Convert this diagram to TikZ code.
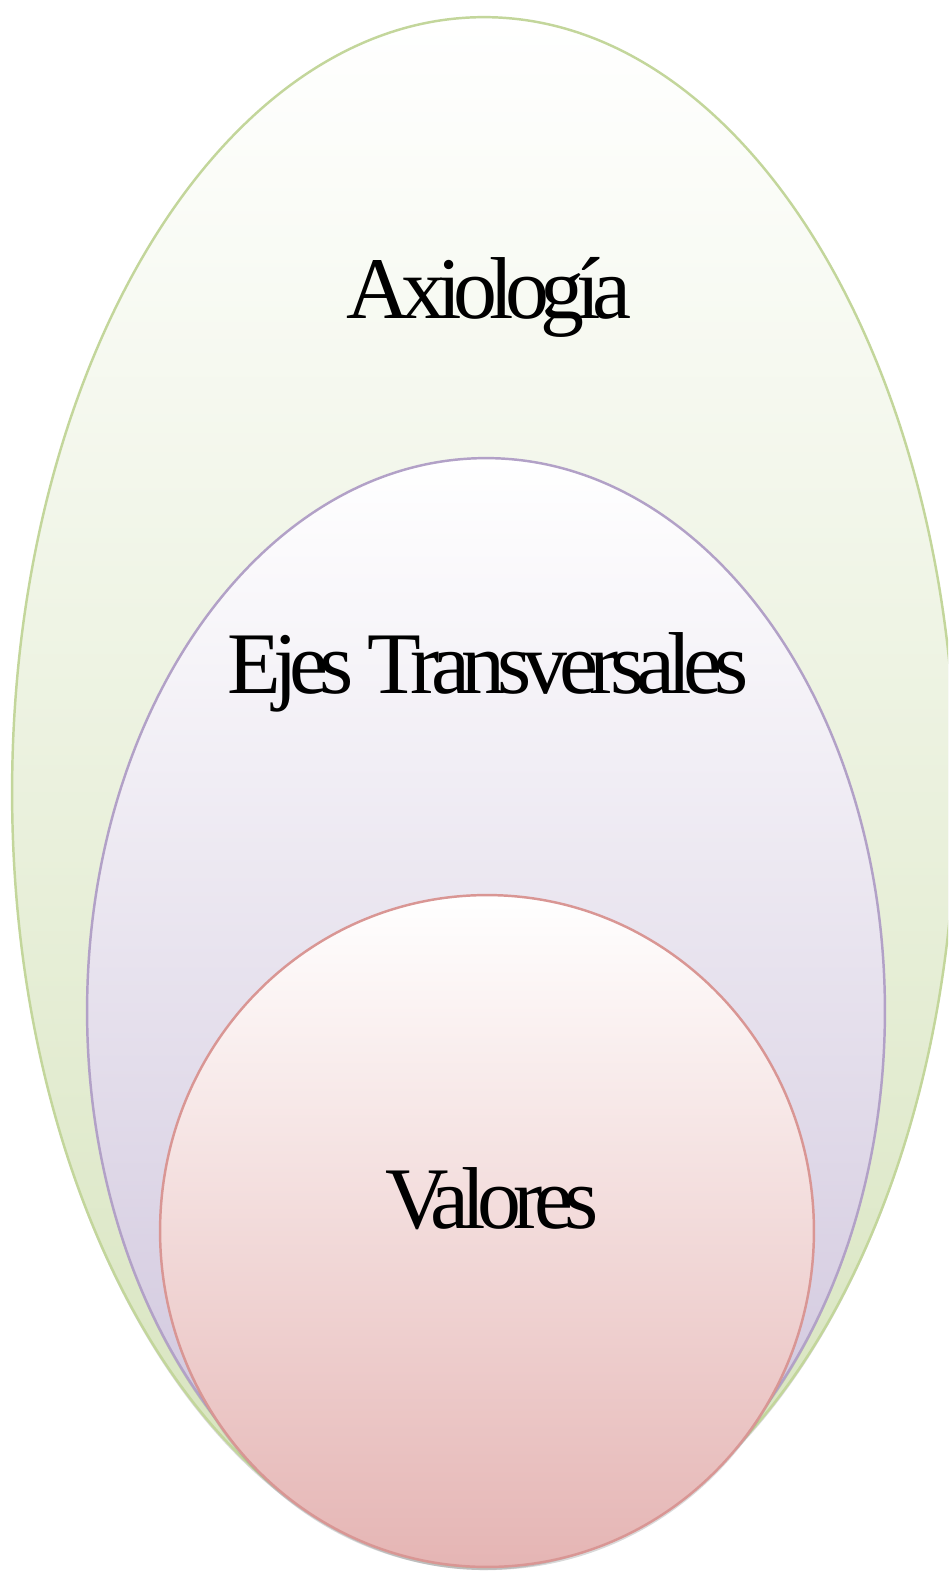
\documentclass[tikz,border=0pt]{standalone}
\usepackage{fontspec}
\setmainfont{Liberation Serif}
\newfontfamily\tightfont{Liberation Serif}[LetterSpace=-9.4]
\usetikzlibrary{shapes.geometric,shadows}

\definecolor{axioline}{RGB}{195,214,155}
\definecolor{axiofill}{RGB}{214,227,188}
\definecolor{ejesline}{RGB}{178,161,199}
\definecolor{ejesfill}{RGB}{204,193,218}
\definecolor{valline}{RGB}{217,150,148}
\definecolor{valfill}{RGB}{229,181,180}

\tikzset{
  ring/.style={ellipse,inner sep=0pt,outer sep=0pt,line width=1.4pt,
    drop shadow={opacity=0.3,shadow xshift=0pt,shadow yshift=-1.8pt}},
  lbl/.style={anchor=base,font=\tightfont\fontsize{50}{60}\selectfont},
}

\begin{document}
\begin{tikzpicture}[x=0.02cm,y=-0.02cm]
      \useasboundingbox (0,0) rectangle (948,1572);
      \clip (0,0) rectangle (948,1572);
      % the three nested ellipses
      \node[ring,draw=axioline,top color=white,bottom color=axiofill,
            minimum width=18.88cm,minimum height=31cm] (axio) at (484,792) {};
      \node[ring,draw=ejesline,top color=white,bottom color=ejesfill,
            minimum width=15.96cm,minimum height=22.12cm] (ejes) at (486,1011) {};
      \node[ring,draw=valline,top color=white,bottom color=valfill,
            minimum width=13.08cm,minimum height=13.44cm] (val) at (487,1231) {};
      % labels
      \node[lbl] (axiotxt) at (489,318) {Axiología};
      \node[lbl] (ejestxt) at (488,693) {Ejes Transversales};
      \node[lbl] (valtxt) at (492,1228) {Valores};
\end{tikzpicture}
\end{document}
